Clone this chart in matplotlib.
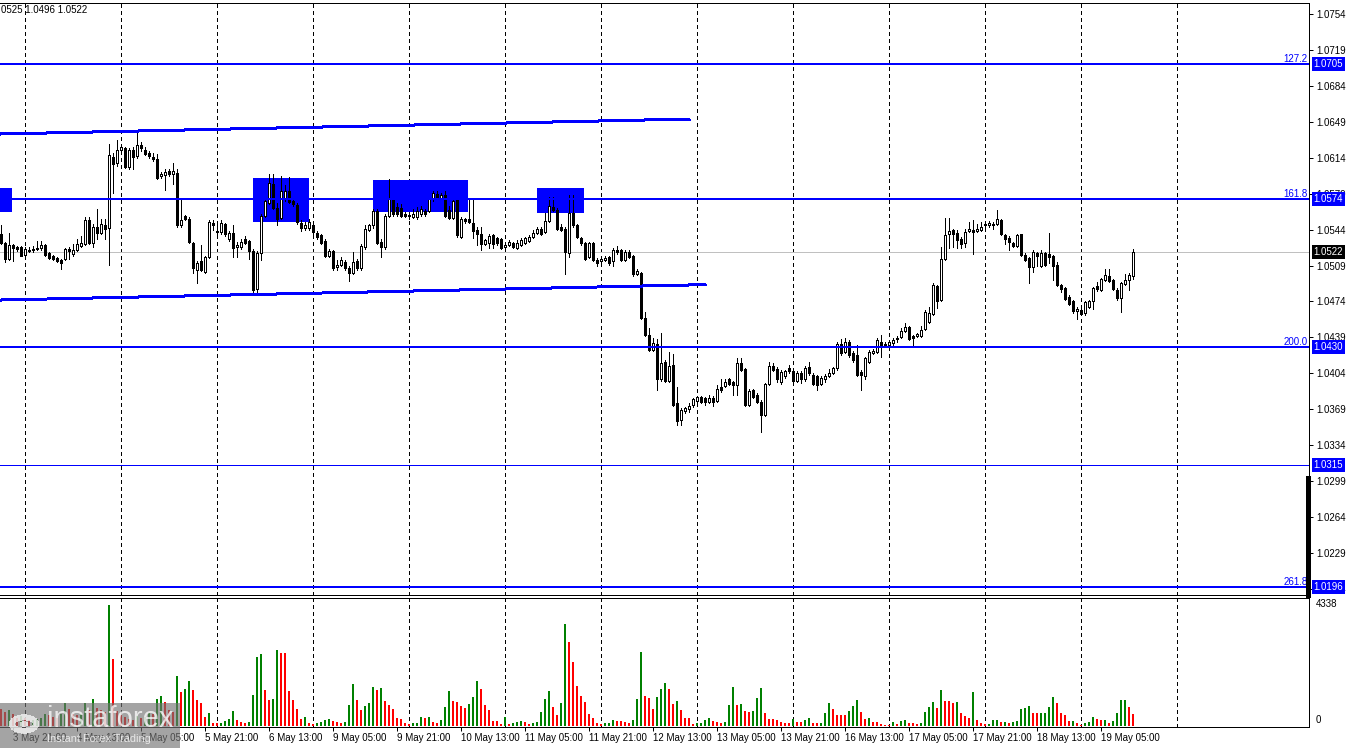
import numpy as np
import matplotlib
matplotlib.use('Agg')
import matplotlib.pyplot as plt
from matplotlib.patches import Rectangle, Circle
from matplotlib.lines import Line2D
from matplotlib.transforms import blended_transform_factory as btf

# ---------------- data (EURUSD H1, prices in pips: price = value / 10000) ----------------
first_bar = -6   # bar index of first candle; index 0 = 4 May 00:00

open_pips = [10540,10531,10515,10529,10527,10527,
10519,10523,10524,10525,10526,10529,10521,10518,10516,10514,
10515,10525,10520,10524,10528,10530,10553,10531,10547,10541,
10548,10546,10615,10609,10622,10623,10605,10622,10616,10626,
10622,10619,10615,10613,10596,10597,10601,10598,10599,10548,
10557,10554,10531,10505,10513,10503,10517,10550,10543,10542,
10549,10535,10541,10527,10527,10535,10533,10523,10486,10521,
10557,10570,10588,10565,10555,10574,10582,10572,10568,10550,
10546,10546,10548,10541,10539,10533,10518,10523,10508,10510,
10512,10507,10502,10513,10507,10527,10544,10548,10562,10532,
10527,10557,10574,10566,10565,10559,10558,10556,10556,10559,
10562,10562,10574,10579,10575,10578,10563,10555,10573,10537,
10554,10554,10550,10544,10540,10530,10531,10539,10536,10535,
10527,10529,10531,10526,10529,10531,10533,10537,10541,10545,
10542,10552,10566,10563,10547,10545,10521,10560,10548,10536,
10531,10517,10531,10514,10513,10514,10517,10513,10524,10524,
10514,10522,10518,10501,10502,10458,10441,10427,10433,10398,
10415,10397,10412,10375,10359,10367,10369,10373,10377,10381,
10380,10376,10380,10377,10391,10392,10398,10396,10393,10414,
10408,10373,10388,10383,10376,10363,10394,10411,10408,10396,
10401,10409,10406,10397,10404,10398,10410,10402,10401,10394,
10398,10401,10404,10409,10433,10425,10435,10424,10422,10405,
10401,10415,10424,10425,10435,10433,10432,10434,10437,10439,
10445,10449,10440,10440,10440,10447,10454,10462,10489,10475,
10515,10540,10544,10541,10535,10531,10543,10544,10543,10544,
10548,10548,10549,10549,10553,10539,10536,10531,10528,10540,
10519,10516,10508,10521,10509,10521,10520,10518,10510,10490,
10487,10478,10474,10465,10466,10463,10469,10474,10489,10485,
10495,10499,10495,10485,10477,10491,10495,10499]

high_pips = [10548,10532,10541,10530,10528,10528,
10527,10527,10528,10533,10533,10530,10522,10519,10517,10515,
10526,10527,10530,10535,10538,10556,10556,10549,10564,10554,
10554,10627,10619,10631,10626,10624,10623,10624,10640,10629,
10624,10621,10619,10618,10600,10603,10603,10609,10603,10574,
10558,10556,10532,10513,10529,10518,10553,10553,10551,10553,
10550,10543,10548,10532,10535,10538,10534,10525,10523,10559,
10574,10598,10598,10570,10596,10587,10595,10574,10570,10553,
10551,10554,10550,10543,10540,10535,10525,10524,10514,10517,
10514,10509,10522,10515,10530,10548,10549,10564,10564,10535,
10559,10593,10575,10570,10569,10561,10561,10564,10566,10567,
10564,10575,10582,10582,10580,10582,10567,10574,10575,10556,
10555,10575,10573,10547,10547,10535,10540,10540,10537,10536,
10531,10534,10532,10534,10536,10537,10539,10544,10547,10547,
10560,10576,10576,10565,10549,10547,10578,10578,10549,10537,
10532,10532,10532,10516,10517,10518,10518,10526,10528,10525,
10524,10524,10519,10506,10503,10464,10448,10438,10437,10443,
10417,10425,10423,10391,10370,10371,10375,10380,10382,10382,
10381,10383,10382,10393,10398,10398,10399,10397,10419,10419,
10409,10389,10389,10385,10378,10395,10415,10414,10410,10407,
10407,10412,10407,10406,10406,10411,10415,10404,10402,10401,
10403,10408,10410,10435,10437,10438,10436,10426,10432,10407,
10420,10427,10428,10438,10441,10435,10436,10438,10440,10448,
10453,10450,10441,10443,10450,10466,10469,10492,10490,10527,
10555,10555,10545,10544,10537,10545,10551,10553,10549,10551,
10551,10552,10551,10563,10554,10540,10538,10532,10540,10540,
10521,10517,10524,10522,10524,10522,10541,10519,10512,10491,
10488,10480,10475,10469,10469,10474,10475,10488,10493,10497,
10506,10506,10496,10487,10493,10501,10502,10525]

low_pips = [10530,10512,10514,10513,10523,10518,
10518,10522,10522,10524,10524,10518,10515,10514,10512,10506,
10514,10515,10518,10523,10527,10529,10530,10527,10535,10540,
10535,10510,10580,10606,10621,10604,10603,10603,10614,10621,
10617,10614,10611,10593,10594,10583,10596,10588,10547,10547,
10553,10531,10502,10492,10504,10502,10516,10544,10540,10540,
10538,10533,10517,10517,10525,10530,10515,10483,10483,10514,
10556,10569,10564,10548,10554,10572,10570,10567,10549,10543,
10544,10544,10538,10535,10530,10517,10517,10505,10505,10509,
10505,10494,10501,10505,10505,10525,10543,10546,10530,10517,
10525,10556,10557,10557,10556,10556,10554,10555,10554,10557,
10557,10561,10572,10575,10574,10556,10554,10554,10537,10536,
10550,10550,10536,10529,10524,10529,10526,10526,10529,10525,
10526,10528,10526,10525,10528,10530,10532,10536,10540,10539,
10541,10551,10562,10544,10543,10501,10517,10547,10536,10529,
10514,10516,10513,10509,10512,10513,10510,10509,10520,10513,
10513,10516,10499,10500,10457,10440,10426,10426,10388,10397,
10396,10396,10372,10354,10354,10365,10366,10371,10376,10375,
10373,10375,10372,10376,10386,10391,10393,10383,10383,10406,
10372,10372,10380,10375,10347,10362,10393,10406,10396,10394,
10399,10404,10395,10396,10395,10397,10402,10393,10388,10393,
10396,10400,10403,10407,10422,10424,10420,10415,10401,10388,
10398,10414,10423,10424,10420,10430,10428,10432,10435,10438,
10444,10436,10431,10439,10439,10446,10453,10461,10468,10474,
10514,10526,10527,10526,10526,10527,10542,10520,10542,10543,
10547,10547,10545,10548,10539,10530,10524,10527,10527,10518,
10513,10492,10503,10509,10508,10509,10511,10495,10489,10483,
10475,10471,10463,10457,10461,10461,10468,10467,10484,10484,
10494,10493,10485,10475,10464,10490,10485,10496]

close_pips = [10531,10515,10529,10526,10525,10518,
10525,10524,10525,10526,10529,10519,10516,10515,10513,10511,
10525,10523,10524,10530,10531,10553,10531,10547,10541,10549,
10545,10617,10608,10622,10624,10605,10622,10615,10626,10623,
10618,10616,10613,10594,10598,10600,10598,10601,10548,10553,
10554,10532,10507,10511,10505,10517,10551,10548,10542,10550,
10540,10541,10526,10529,10532,10531,10523,10485,10521,10557,
10572,10589,10565,10554,10582,10582,10571,10569,10551,10546,
10548,10551,10542,10537,10531,10518,10523,10507,10510,10514,
10507,10502,10512,10507,10528,10545,10548,10562,10531,10527,
10557,10574,10559,10559,10557,10557,10557,10559,10562,10564,
10559,10574,10580,10576,10578,10557,10555,10572,10539,10554,
10552,10551,10543,10540,10530,10534,10538,10530,10531,10526,
10529,10532,10527,10531,10534,10536,10537,10541,10545,10540,
10552,10567,10563,10545,10544,10522,10560,10548,10537,10531,
10515,10531,10514,10511,10515,10516,10511,10524,10522,10514,
10522,10517,10501,10504,10458,10441,10427,10434,10398,10414,
10397,10411,10373,10358,10368,10370,10372,10379,10381,10376,
10376,10380,10376,10389,10388,10396,10394,10393,10414,10407,
10373,10387,10381,10376,10363,10394,10411,10407,10398,10405,
10406,10406,10397,10404,10398,10409,10404,10394,10393,10399,
10401,10404,10409,10433,10424,10435,10422,10417,10402,10402,
10419,10425,10426,10436,10430,10432,10435,10436,10438,10445,
10449,10437,10438,10442,10446,10464,10463,10490,10474,10515,
10539,10543,10540,10534,10530,10542,10545,10542,10545,10547,
10549,10550,10548,10554,10540,10535,10532,10528,10539,10519,
10514,10508,10522,10518,10521,10510,10517,10509,10490,10486,
10476,10472,10465,10467,10462,10473,10474,10487,10486,10496,
10500,10494,10486,10477,10492,10495,10500,10522]

volumes = [620,500,560,420,300,350,
280,200,220,260,300,420,380,330,280,420,
810,600,430,390,420,810,560,970,630,570,
510,4338,2402,520,400,330,260,230,350,280,
330,450,430,968,1075,848,574,514,1793,1219,
1315,1613,1291,932,813,323,454,120,96,120,
179,251,538,215,143,120,143,1111,2474,2581,
1291,932,968,2725,2617,2617,1255,932,609,251,
323,96,60,110,130,215,251,179,155,120,
143,765,1506,932,574,729,837,1398,1291,1362,
896,765,609,300,260,108,60,100,110,323,
287,323,143,120,215,681,1255,896,860,717,
645,789,1052,1613,1326,765,574,179,175,72,
323,72,96,143,179,143,84,120,143,502,
968,1255,681,394,825,3657,3011,2306,1446,1087,
860,430,287,96,72,108,125,215,179,175,
143,108,215,968,2653,1075,1004,609,1040,1326,
1542,1326,789,896,574,287,287,72,108,115,
215,287,179,143,108,143,765,1398,765,789,
538,502,538,1004,1362,466,251,251,215,143,
120,108,251,143,143,215,287,120,108,120,
466,825,609,394,394,394,538,717,932,502,
251,287,143,143,72,36,36,143,72,179,
215,108,108,72,108,502,681,860,645,1291,
896,896,825,860,466,359,287,1219,215,108,
60,84,215,227,131,155,108,143,167,609,
645,717,454,454,466,470,692,1050,813,455,
394,180,190,96,36,118,143,335,251,215,
225,120,190,455,920,932,692,430]

xtick_bars = [-3, 13, 29, 45, 61, 77, 93, 109, 125, 141, 157, 173, 189, 205, 221, 237, 253, 269]
xtick_labels = ['3 May 21:00', '4 May 13:00', '5 May 05:00', '5 May 21:00', '6 May 13:00',
                '9 May 05:00', '9 May 21:00', '10 May 13:00', '11 May 05:00', '11 May 21:00',
                '12 May 13:00', '13 May 05:00', '13 May 21:00', '16 May 13:00', '17 May 05:00',
                '17 May 21:00', '18 May 13:00', '19 May 05:00']
day_start_bars = [0, 24, 48, 72, 96, 120, 144, 168, 192, 216, 240, 264, 288]

price_ticks = [1.0754, 1.0719, 1.0684, 1.0649, 1.0614, 1.0579, 1.0544, 1.0509, 1.0474,
               1.0439, 1.0404, 1.0369, 1.0334, 1.0299, 1.0264, 1.0229, 1.0194]
fib_prices = [1.0705, 1.0574, 1.0430, 1.0196]
fib_names = ['127.2', '161.8', '200.0', '261.8']
level_thin = 1.0315
bid_price = 1.0522
header_text = '0525 1.0496 1.0522'
vol_max_label = 4338

box_bar_start = [-6.25, 57, 87, 128]
box_bar_end = [-3.25, 71, 110.75, 139.75]
box_price_top = [1.05845, 1.05943, 1.05923, 1.05845]
box_price_bottom = [1.05611, 1.05514, 1.05611, 1.05601]

chan_upper_bars = [-6.25, 166.25]
chan_upper_prices = [1.06371, 1.06517]
chan_lower_bars = [-6.25, 170.25]
chan_lower_prices = [1.04754, 1.04904]

# ---------------- figure ----------------
plt.rcParams['font.family'] = ['Liberation Sans', 'DejaVu Sans']
plt.rcParams['lines.antialiased'] = False
plt.rcParams['patch.antialiased'] = False

W, H = 1350, 748
fig = plt.figure(figsize=(W / 100, H / 100), dpi=100)
fig.patch.set_facecolor('white')

def fy(y):
    return 1 - y / H

PX = 0.72  # one pixel in points
ax_right = 1309 / W
axp = fig.add_axes([0, fy(595), ax_right, (595 - 3) / H])
axv = fig.add_axes([0, fy(727), ax_right, (727 - 598) / H], sharex=axp)

o = np.array(open_pips) / 1e4
h = np.array(high_pips) / 1e4
l = np.array(low_pips) / 1e4
c = np.array(close_pips) / 1e4
v = np.array(volumes, dtype=float)
idx = np.arange(first_bar, first_bar + len(o))

BLUE = '#0000ff'

# grid (day separators)
for ax in (axp, axv):
    for d in day_start_bars:
        ax.axvline(d, color='black', lw=PX, ls=(0, (3, 3)), zorder=0.5)

# boxes
for x0, x1, p1, p0 in zip(box_bar_start, box_bar_end, box_price_top, box_price_bottom):
    axp.add_patch(Rectangle((x0, p0), x1 - x0, p1 - p0, facecolor=BLUE, edgecolor='none', zorder=1.5))

# bid line
axp.axhline(bid_price, color='#c0c0c0', lw=PX, zorder=1)

# candles
axp.vlines(idx, l, h, color='black', lw=PX, zorder=3)
up = c > o
bot = np.minimum(o, c)
hgt = np.abs(c - o)
axp.bar(idx[up], hgt[up], bottom=bot[up], width=0.5, facecolor='white', edgecolor='black', lw=PX, zorder=4)
axp.bar(idx[~up], hgt[~up], bottom=bot[~up], width=0.5, facecolor='black', edgecolor='black', lw=PX, zorder=4)

# fib lines & levels
for p in fib_prices:
    axp.axhline(p, color=BLUE, lw=2 * PX, zorder=5)
axp.axhline(level_thin, color=BLUE, lw=PX, zorder=5)

# channel
axp.plot(chan_upper_bars, chan_upper_prices, color=BLUE, lw=2 * PX, zorder=5, solid_capstyle='butt')
axp.plot(chan_lower_bars, chan_lower_prices, color=BLUE, lw=2 * PX, zorder=5, solid_capstyle='butt')

axp.set_xlim(-6.25, 321)
axp.set_ylim(1.01881, 1.07647)

# price axis
axp.yaxis.tick_right()
axp.set_yticks(price_ticks)
axp.set_yticklabels(['%.4f' % t for t in price_ticks])
axp.tick_params(axis='y', direction='out', length=3, width=PX, pad=2.5, labelsize=7, colors='black')
axp.tick_params(axis='x', bottom=False, labelbottom=False)
axp.spines['left'].set_visible(False)
for s in ('top', 'bottom', 'right'):
    axp.spines[s].set_linewidth(PX)

tr_fig_data = btf(fig.transFigure, axp.transData)
for p, name in zip(fib_prices, fib_names):
    axp.text(1307.5 / W, p, name, transform=tr_fig_data, ha='right', va='bottom', fontsize=7,
             color=BLUE, zorder=6, clip_on=False)
for p in fib_prices + [level_thin]:
    axp.text(1313.5 / W, p, '%.4f' % p, transform=tr_fig_data, ha='left', va='center', fontsize=7,
             color='white', zorder=10, clip_on=False,
             bbox=dict(boxstyle='square,pad=0.2', fc=BLUE, ec='none'))
axp.text(1313.5 / W, bid_price, '%.4f' % bid_price, transform=tr_fig_data, ha='left', va='center',
         fontsize=7, color='white', zorder=10, clip_on=False,
         bbox=dict(boxstyle='square,pad=0.2', fc='black', ec='none'))

# thick scale marker on the right axis
axp.add_line(Line2D([1308.3 / W, 1308.3 / W], [1.0302, 1.01881], transform=tr_fig_data,
                    color='black', lw=2.2, clip_on=False, zorder=7))

# volumes: green when volume rises vs previous bar, red otherwise
vcol = ['#ff0000'] + ['#008000' if v[k] > v[k - 1] else '#ff0000' for k in range(1, len(v))]
axv.bar(idx, v, width=0.72, color=vcol, edgecolor='none', zorder=2)
axv.set_ylim(-36, 4589)
axv.set_yticks([])
axv.spines['left'].set_visible(False)
for s in ('top', 'bottom', 'right'):
    axv.spines[s].set_linewidth(PX)
axv.set_xticks(xtick_bars)
axv.set_xticklabels(xtick_labels)
for lb in axv.get_xticklabels():
    lb.set_horizontalalignment('left')
axv.tick_params(axis='x', direction='out', length=3, width=PX, pad=1.5, labelsize=7)

fig.text(1316 / W, fy(604), str(vol_max_label), fontsize=7, va='center', ha='left')
fig.text(1316 / W, fy(720), '0', fontsize=7, va='center', ha='left')

# header
fig.text(1 / W, fy(10), header_text, fontsize=7, va='center', ha='left')

# watermark
fig.add_artist(Rectangle((0, 0), 180 / W, 45 / H, transform=fig.transFigure,
                         facecolor=(0.45, 0.45, 0.45), alpha=0.65, edgecolor='none', zorder=20))
fig.add_artist(Circle((24 / W, fy(724)), 12 / W, transform=fig.transFigure, facecolor='none',
                      edgecolor=(1, 1, 1, 0.7), lw=3.5, zorder=21))
fig.add_artist(Circle((24 / W, fy(724)), 4 / W, transform=fig.transFigure, facecolor=(1, 1, 1, 0.7),
                      edgecolor='none', zorder=21))
fig.text(47 / W, fy(719), 'instaforex', fontsize=21, color='white', alpha=0.75, va='center',
         ha='left', zorder=22)
fig.text(47 / W, fy(739), 'Instant Forex Trading', fontsize=7.8, color='white', alpha=0.75,
         va='center', ha='left', zorder=22)

fig.savefig('out.png', dpi=100, facecolor='white')
